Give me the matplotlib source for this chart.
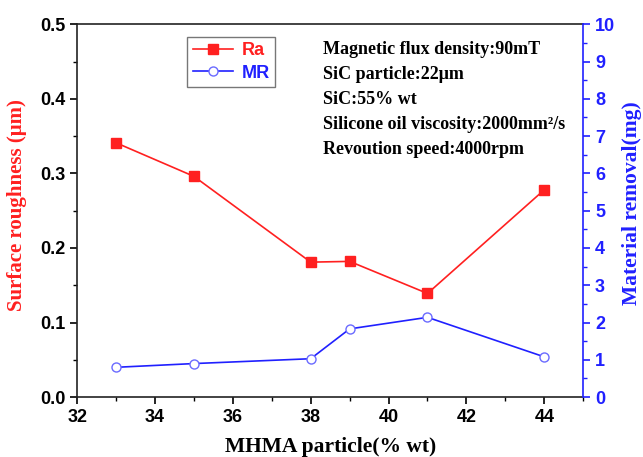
import matplotlib
matplotlib.use('Agg')
import matplotlib.pyplot as plt
from matplotlib.ticker import MultipleLocator

# data
mhma = [33, 35, 38, 39, 41, 44]
ra = [0.341, 0.296, 0.181, 0.182, 0.139, 0.278]
mr = [0.80, 0.90, 1.03, 1.83, 2.14, 1.08]
x_ticks = [32, 34, 36, 38, 40, 42, 44]
conditions = [
    "Magnetic flux density:90mT",
    "SiC particle:22\u03bcm",
    "SiC:55% wt",
    "Silicone oil viscosity:2000mm\u00b2/s",
    "Revoution speed:4000rpm",
]

RED = "#ff2020"
BLUE = "#2020ff"
sans = "Liberation Sans"
serif = "Liberation Serif"

fig = plt.figure(figsize=(6.43, 4.57), dpi=100)
ax = fig.add_axes([0.12, 0.131, 0.787, 0.816])
ax2 = ax.twinx()

l1, = ax.plot(mhma, ra, color=RED, marker="s", markersize=6.5, linewidth=1.2, label="Ra")
l2, = ax2.plot(mhma, mr, color=BLUE, marker="o", markersize=6.5, markerfacecolor="white",
               markeredgecolor="#6a6aff", linewidth=1.2, label="MR")

ax.set_xlim(32, 45)
ax.set_ylim(0, 0.5)
ax2.set_ylim(0, 10)
ax.set_xticks(x_ticks)
ax.xaxis.set_minor_locator(MultipleLocator(1))
ax.yaxis.set_major_locator(MultipleLocator(0.1))
ax.yaxis.set_minor_locator(MultipleLocator(0.05))
ax2.yaxis.set_major_locator(MultipleLocator(1))
ax2.yaxis.set_minor_locator(MultipleLocator(0.5))
ax.yaxis.set_major_formatter(matplotlib.ticker.FormatStrFormatter('%.1f'))

for a in (ax, ax2):
    a.tick_params(which="major", direction="out", length=5, width=1.2)
    a.tick_params(which="minor", direction="out", length=3, width=1.0)
ax.tick_params(axis="y", right=False)
ax.tick_params(axis="x", top=False, which="both")
ax2.tick_params(axis="y", which="both", colors=BLUE)

for lab in ax.get_xticklabels() + ax.get_yticklabels():
    lab.set_fontfamily(sans)
    lab.set_fontweight("bold")
    lab.set_fontsize(13)
for lab in ax2.get_yticklabels():
    lab.set_fontfamily(sans)
    lab.set_fontweight("bold")
    lab.set_fontsize(13)
    lab.set_color(BLUE)

for s in ("left", "bottom", "top"):
    ax.spines[s].set_linewidth(1.2)
    ax.spines[s].set_color("#222222")
ax2.spines["right"].set_color(BLUE)
ax2.spines["right"].set_linewidth(1.2)
ax2.spines["left"].set_visible(False)
ax2.spines["top"].set_visible(False)
ax2.spines["bottom"].set_visible(False)
ax.spines["right"].set_visible(False)

ax.set_xlabel("MHMA particle(% wt)", fontfamily=serif, fontweight="bold", fontsize=15.5, labelpad=8)
ax.set_ylabel("Surface roughness (\u03bcm)", fontfamily=serif, fontweight="bold", fontsize=15,
              color=RED)
ax2.set_ylabel("Material removal(mg)", fontfamily=serif, fontweight="bold", fontsize=15.5,
               color=BLUE)
ax.yaxis.set_label_coords(-0.099, 0.515)
ax2.yaxis.set_label_coords(1.077, 0.519)

leg = ax.legend(handles=[l1, l2], loc="upper left", bbox_to_anchor=(0.2, 0.99),
                prop={"family": sans, "weight": "bold", "size": 13},
                frameon=True, fancybox=False, edgecolor="#555555",
                handlelength=2.2, borderpad=0.3, labelspacing=0.3, handletextpad=0.5)
leg.get_texts()[0].set_color(RED)
leg.get_texts()[1].set_color(BLUE)

for i, t in enumerate(conditions):
    ax.text(0.485, 0.933 - i * 0.067, t, transform=ax.transAxes, fontfamily=serif,
            fontweight="bold", fontsize=13, va="center", ha="left")

fig.savefig("out.png", dpi=100)
